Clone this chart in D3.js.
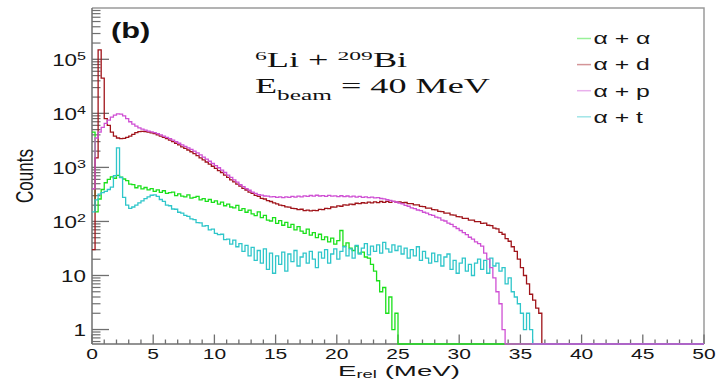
<!DOCTYPE html>
<html>
<head>
<meta charset="utf-8">
<script src="https://cdn.jsdelivr.net/npm/d3@7"></script>
<style>
  html, body { margin: 0; padding: 0; background: #fff; }
  svg { display: block; }
</style>
</head>
<body>
<svg id="chart" width="720" height="380"></svg>
<script>
// Relative-energy spectra, 0.25 MeV bins starting at E_rel = 0 (bins past the end of each list are empty)
const binWidth = 0.25;
const xRange = [0, 50];

const alphaAlpha = [
  4500, 150, 260, 390, 520, 600, 670, 630, 710, 660,
  610, 570, 490, 480, 420, 455, 400, 425, 385, 405,
  360, 385, 345, 370, 330, 340, 350, 300, 325, 295,
  285, 310, 270, 280, 290, 250, 265, 235, 255, 225,
  240, 210, 228, 195, 210, 185, 178, 198, 160, 172,
  148, 162, 138, 128, 150, 118, 130, 106, 102, 118,
  92, 104, 85, 96, 78, 88, 70, 80, 66, 60,
  72, 56, 62, 50, 58, 46, 52, 42, 49, 38,
  44, 68, 35, 40, 32, 29, 35, 26, 27, 22,
  21, 16, 12, 8, 5, 6, 2, 4, 1, 2
];

const alphaD = [
  30, 1500, 150000, 45000, 8000, 6000, 4500, 3800, 3500, 3400,
  3450, 3600, 3800, 4100, 4400, 4600, 4650, 4600, 4500, 4350,
  4200, 4000, 3800, 3600, 3400, 3200, 3000, 2800, 2600, 2400,
  2250, 2100, 1950, 1800, 1650, 1500, 1380, 1260, 1150, 1050,
  960, 875, 805, 720, 655, 590, 540, 490, 452, 410,
  382, 350, 332, 304, 292, 268, 260, 242, 234, 220,
  212, 200, 196, 186, 184, 174, 172, 166, 168, 158,
  162, 157, 160, 158, 167, 165, 175, 172, 185, 184,
  194, 191, 203, 200, 210, 206, 217, 213, 222, 218,
  228, 220, 231, 223, 234, 226, 235, 226, 236, 227,
  230, 222, 224, 214, 214, 203, 202, 190, 188, 177,
  176, 165, 164, 153, 152, 143, 142, 132, 131, 123,
  122, 114, 114, 106, 106, 99, 99, 92, 93, 85,
  84, 75, 73, 63, 58, 48, 43, 34, 28, 20,
  14, 10, 7, 4.5, 3.5, 2.5, 2
];

const alphaP = [
  400, 3500, 4500, 5500, 6500, 7500, 8500, 9300, 9800, 9700,
  9000, 8000, 7000, 6300, 5800, 5400, 5100, 4900, 4700, 4550,
  4400, 4200, 4000, 3800, 3600, 3400, 3200, 3000, 2800, 2600,
  2450, 2300, 2150, 2000, 1850, 1700, 1550, 1420, 1300, 1180,
  1080, 985, 890, 805, 720, 655, 588, 535, 478, 442,
  404, 378, 348, 332, 312, 306, 296, 294, 286, 288,
  278, 284, 276, 286, 280, 291, 283, 294, 286, 298,
  290, 302, 293, 305, 296, 300, 292, 303, 294, 297,
  289, 299, 287, 296, 285, 293, 282, 290, 279, 286,
  275, 283, 272, 276, 266, 262, 252, 246, 235, 229,
  218, 211, 198, 191, 179, 173, 163, 158, 148, 143,
  134, 129, 120, 116, 106, 102, 93, 88, 80, 74,
  68, 62, 57, 51, 47, 42, 39, 35, 26, 20,
  14, 9, 5, 3, 1
];

const alphaT = [
  150, 250, 320, 340, 360, 390, 430, 700, 2300, 650,
  280, 200, 175, 185, 200, 220, 240, 265, 285, 305,
  310, 290, 255, 235, 200, 195, 170, 168, 148, 142,
  130, 124, 112, 108, 95, 94, 82, 84, 70, 72,
  60, 57, 58, 46, 47, 38, 45, 34, 39, 28,
  36, 23, 33, 19, 29, 17, 31, 13, 26, 11,
  23, 16, 27, 12, 25, 18, 29, 15, 22, 26,
  17, 28, 20, 14, 27, 21, 30, 17, 25, 31,
  20, 28, 34, 23, 31, 21, 36, 25, 32, 39,
  24, 35, 28, 37, 26, 41, 31, 27, 37, 29,
  35, 25, 32, 21, 30, 23, 34, 19, 28, 21,
  17, 26, 18, 24, 15, 22, 25, 13, 19, 11,
  17, 21, 12, 16, 10, 17, 20, 13, 19, 11,
  21, 15, 17, 12, 14, 7, 9, 5, 4, 3,
  2, 1, 2, 1
];

const seriesLabels = ["α + α", "α + d", "α + p", "α + t"];

const xTickValues = [0, 5, 10, 15, 20, 25, 30, 35, 40, 45, 50];
const yTickValues = [1, 10, 100, 1000, 10000, 100000];
const yTickBase = ["1", "10", "10", "10", "10", "10"];
const yTickExp = ["", "", "2", "3", "4", "5"];

// ---- layout & styles ----
const W = 720, H = 380;
const frame = { left: 92, right: 704, top: 8, bottom: 344 };
const yDomain = [0.54, 8.9e5];
const colors = {
  "α + α": "#1be01b",
  "α + d": "#a0141a",
  "α + p": "#cf50d4",
  "α + t": "#2fc6ca"
};
const series = [
  { label: "α + α", counts: alphaAlpha },
  { label: "α + d", counts: alphaD },
  { label: "α + p", counts: alphaP },
  { label: "α + t", counts: alphaT }
];
// Drawing order: later histograms sit on top
const drawOrder = ["α + α", "α + d", "α + t", "α + p"];
const SX = 1.4;       // horizontal stretch of the lettering
const axisColor = "#6f6f6f";

const svg = d3.select("#chart");
const x = d3.scaleLinear().domain(xRange).range([frame.left, frame.right]);
const y = d3.scaleLog().domain(yDomain).range([frame.bottom, frame.top]).clamp(true);
const yv = v => y(Math.max(v, yDomain[0]));

// stretched text placed at (px, py)
function stretched(parent, px, py, sx, anchor) {
  const g = parent.append("g").attr("transform", `translate(${px},${py})`);
  const t = g.append("text")
    .attr("text-anchor", anchor || "start")
    .attr("transform", `scale(${sx},1)`);
  return t;
}
// text scaled so its drawn width equals the given width
function fitWidth(t, width) {
  const w = t.node().getBBox().width;
  t.attr("transform", `scale(${width / w},1)`);
}

// ---- frame ----
svg.append("rect").attr("width", W).attr("height", H).attr("fill", "#fff");
svg.append("path")
  .attr("d", `M${frame.left},${frame.top}H${frame.right}V${frame.bottom}`)
  .attr("fill", "none").attr("stroke", "#9a9a9a").attr("stroke-width", 1.5);

// ---- x axis ----
const xAxisG = svg.append("g");
xAxisG.append("line")
  .attr("x1", frame.left).attr("x2", frame.right)
  .attr("y1", frame.bottom).attr("y2", frame.bottom)
  .attr("stroke", axisColor).attr("stroke-width", 1.5);
d3.range(xRange[0], xRange[1] + 1, 1).forEach(v => {
  const major = v % 5 === 0;
  xAxisG.append("line")
    .attr("x1", x(v)).attr("x2", x(v))
    .attr("y1", frame.bottom).attr("y2", frame.bottom - (major ? 9.5 : 4.5))
    .attr("stroke", axisColor).attr("stroke-width", 1.3);
});
xTickValues.forEach(v => {
  stretched(xAxisG, x(v), 359, 1.45, "middle")
    .attr("font-family", "Liberation Sans, Arial, sans-serif")
    .attr("font-size", 14.5).attr("fill", "#151515")
    .text(String(v));
});

// ---- y axis ----
const yAxisG = svg.append("g");
yAxisG.append("line")
  .attr("x1", frame.left).attr("x2", frame.left)
  .attr("y1", frame.top).attr("y2", frame.bottom)
  .attr("stroke", axisColor).attr("stroke-width", 1.5);
const minorY = [];
[0.1, 1, 10, 100, 1000, 10000, 100000].forEach(d => {
  for (let k = 2; k <= 9; k++) {
    const v = k * d;
    if (v >= yDomain[0] && v <= yDomain[1]) minorY.push(v);
  }
});
minorY.forEach(v => {
  yAxisG.append("line")
    .attr("x1", frame.left).attr("x2", frame.left + 8.5)
    .attr("y1", y(v)).attr("y2", y(v))
    .attr("stroke", axisColor).attr("stroke-width", 1.2);
});
yTickValues.forEach((v, i) => {
  yAxisG.append("line")
    .attr("x1", frame.left).attr("x2", frame.left + 17)
    .attr("y1", y(v)).attr("y2", y(v))
    .attr("stroke", axisColor).attr("stroke-width", 1.3);
  const t = stretched(yAxisG, 86, y(v) + 6.5, SX, "end")
    .attr("font-family", "Liberation Sans, Arial, sans-serif")
    .attr("font-size", 16).attr("fill", "#151515");
  t.append("tspan").text(yTickBase[i]);
  if (yTickExp[i]) {
    t.append("tspan").attr("dy", -5.5).attr("font-size", 11.5).text(yTickExp[i]);
  }
});

// ---- axis titles ----
svg.append("g").attr("transform", `translate(33,176) scale(1.45,1) rotate(-90)`)
  .append("text")
  .attr("text-anchor", "middle")
  .attr("font-family", "Liberation Sans, Arial, sans-serif")
  .attr("font-size", 17).attr("fill", "#151515")
  .text("Counts");

const xTitle = stretched(svg, 338, 376, 1, "start")
  .attr("font-family", "Liberation Sans, Arial, sans-serif")
  .attr("font-size", 15).attr("fill", "#151515");
xTitle.append("tspan").text("E");
xTitle.append("tspan").attr("dy", 1.5).attr("font-size", 10).text("rel");
xTitle.append("tspan").attr("dy", -1.5).text(" (MeV)");
fitWidth(xTitle, 122);

// ---- histograms ----
svg.append("defs").append("clipPath").attr("id", "plotClip")
  .append("rect")
  .attr("x", frame.left).attr("y", frame.top)
  .attr("width", frame.right - frame.left)
  .attr("height", frame.bottom - frame.top + 2);

const nBins = Math.round((xRange[1] - xRange[0]) / binWidth);
const step = d3.line()
  .x(d => x(d[0]))
  .y(d => yv(d[1]))
  .curve(d3.curveStepAfter);

const histG = svg.append("g").attr("clip-path", "url(#plotClip)");
drawOrder.forEach(label => {
  const s = series.find(d => d.label === label);
  const pts = d3.range(nBins).map(i => [xRange[0] + i * binWidth, i < s.counts.length ? s.counts[i] : 0]);
  pts.push([xRange[1], pts[pts.length - 1][1]]);
  histG.append("path")
    .attr("d", step(pts))
    .attr("fill", "none")
    .attr("stroke", colors[label])
    .attr("stroke-width", 1.3)
    .attr("stroke-linejoin", "miter");
});

// ---- panel tag ----
stretched(svg, 111, 37.5, SX, "start")
  .attr("font-family", "Liberation Sans, Arial, sans-serif")
  .attr("font-weight", "bold")
  .attr("font-size", 22).attr("fill", "#111")
  .text("(b)");

// ---- reaction annotation ----
const serif = "Liberation Serif, 'Times New Roman', serif";
const line1 = stretched(svg, 255, 67, 1, "start")
  .attr("font-family", serif).attr("font-size", 20).attr("fill", "#111");
line1.append("tspan").attr("font-size", 13).attr("dy", -7).text("6");
line1.append("tspan").attr("dy", 7).text("Li + ");
line1.append("tspan").attr("font-size", 13).attr("dy", -7).text("209");
line1.append("tspan").attr("dy", 7).text("Bi");
fitWidth(line1, 153);

const line2 = stretched(svg, 255, 93, 1, "start")
  .attr("font-family", serif).attr("font-size", 20).attr("fill", "#111");
line2.append("tspan").text("E");
line2.append("tspan").attr("font-size", 14).attr("dy", 7).text("beam");
line2.append("tspan").attr("dy", -7).text(" = 40 MeV");
fitWidth(line2, 236);

// ---- legend ----
const legendG = svg.append("g");
seriesLabels.forEach((label, i) => {
  const ly = 38.5 + i * 26.1;
  legendG.append("line")
    .attr("x1", 577).attr("x2", 591)
    .attr("y1", ly).attr("y2", ly)
    .attr("stroke", colors[label]).attr("stroke-opacity", 0.45)
    .attr("stroke-width", 1.5);
  const t = stretched(legendG, 593.5, ly + 5.8, 1, "start")
    .attr("font-family", "Liberation Sans, Arial, sans-serif")
    .attr("font-size", 16).attr("fill", "#151515")
    .attr("xml:space", "preserve")
    .text(label);
  t.attr("transform", `scale(1.55,1)`);
});
</script>
</body>
</html>
